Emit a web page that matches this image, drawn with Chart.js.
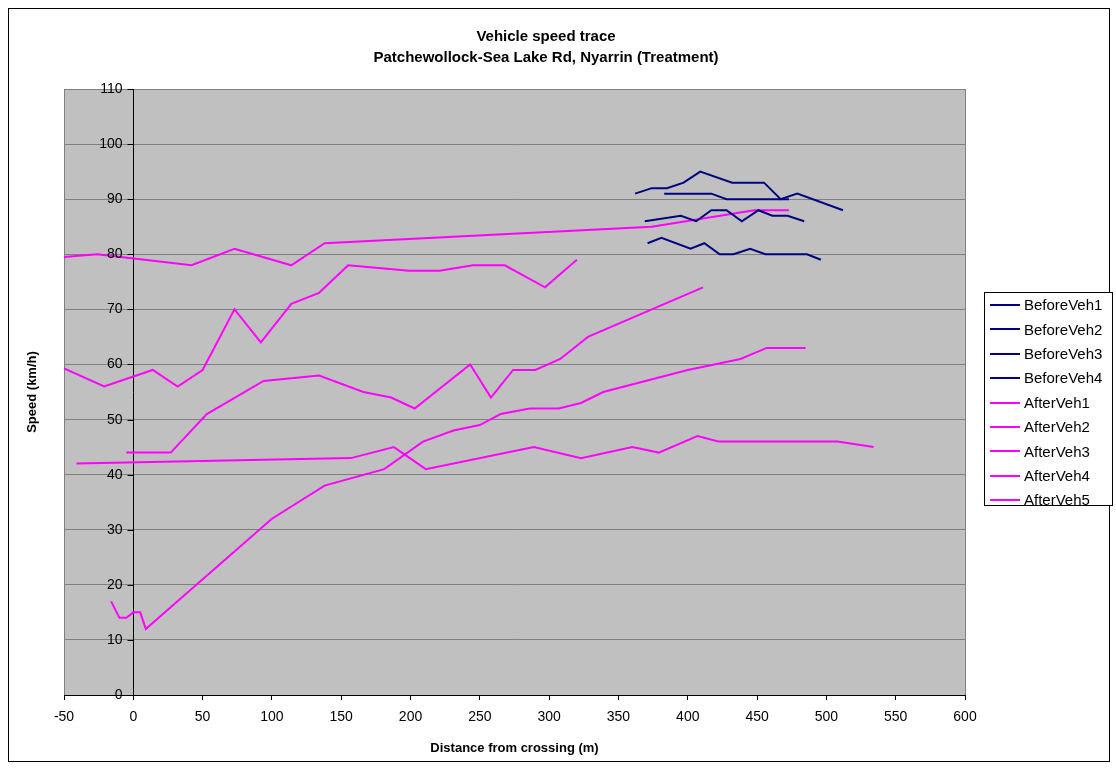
<!DOCTYPE html>
<html>
<head>
<meta charset="utf-8">
<title>Vehicle speed trace</title>
<script src="https://cdn.jsdelivr.net/npm/chart.js@4.4.1/dist/chart.umd.min.js"></script>
<style>
  html, body { margin: 0; padding: 0; background: #fff; }
  #wrap { width: 1116px; height: 771px; }
</style>
</head>
<body>
<div id="wrap"><canvas id="c" width="1116" height="771"></canvas></div>
<script>
// Distance from crossing (m) and speed (km/h) for each traced vehicle
const beforeVeh1Dist  = [362, 374, 385, 397, 409, 432, 455, 467, 479, 512];
const beforeVeh1Speed = [91, 92, 92, 93, 95, 93, 93, 90, 91, 88];
const beforeVeh2Dist  = [383, 417, 428, 473];
const beforeVeh2Speed = [91, 91, 90, 90];
const beforeVeh3Dist  = [369, 395, 406, 417, 428, 439, 451, 461, 472, 484];
const beforeVeh3Speed = [86, 87, 86, 88, 88, 86, 88, 87, 87, 86];
const beforeVeh4Dist  = [371, 381, 402, 412, 423, 433, 445, 456, 486, 496];
const beforeVeh4Speed = [82, 83, 81, 82, 80, 80, 81, 80, 80, 79];

const afterVeh1Dist  = [-50, -26, 42, 73, 114, 138, 374, 448, 473];
const afterVeh1Speed = [79.5, 80, 78, 81, 78, 82, 85, 88, 88];
const afterVeh2Dist  = [-50, -21, 14, 32, 50, 73, 92, 114, 134, 155, 199, 221, 245, 268, 297, 320];
const afterVeh2Speed = [59.3, 56, 59, 56, 59, 70, 64, 71, 73, 78, 77, 77, 78, 78, 74, 79];
const afterVeh3Dist  = [-5, 27, 53, 94, 134, 166, 186, 203, 243, 258, 274, 290, 308, 328, 411];
const afterVeh3Speed = [44, 44, 51, 57, 58, 55, 54, 52, 60, 54, 59, 59, 61, 65, 74];
const afterVeh4Dist  = [-41, 157, 188, 211, 289, 323, 360, 379, 407, 422, 508, 534];
const afterVeh4Speed = [42, 43, 45, 41, 45, 43, 45, 44, 47, 46, 46, 45];
const afterVeh5Dist  = [-16, -10, -5, 0, 5, 9, 100, 138, 181, 209, 231, 250, 265, 286, 307, 323, 339, 400, 438, 457, 485];
const afterVeh5Speed = [17, 14, 14, 15, 15, 12, 32, 38, 41, 46, 48, 49, 51, 52, 52, 53, 55, 59, 61, 63, 63];

const seriesNames = ['BeforeVeh1', 'BeforeVeh2', 'BeforeVeh3', 'BeforeVeh4',
                     'AfterVeh1', 'AfterVeh2', 'AfterVeh3', 'AfterVeh4', 'AfterVeh5'];

const titleLines = ['Vehicle speed trace', 'Patchewollock-Sea Lake Rd, Nyarrin (Treatment)'];
const xAxisTitle = 'Distance from crossing (m)';
const yAxisTitle = 'Speed (km/h)';

const BEFORE_COLOR = '#000080';
const AFTER_COLOR = '#FF00FF';
const FONT = '"Liberation Sans", Arial, sans-serif';

function pairs(xs, ys) {
  return xs.map((x, i) => ({ x: x, y: ys[i] }));
}

const seriesData = [
  [beforeVeh1Dist, beforeVeh1Speed],
  [beforeVeh2Dist, beforeVeh2Speed],
  [beforeVeh3Dist, beforeVeh3Speed],
  [beforeVeh4Dist, beforeVeh4Speed],
  [afterVeh1Dist, afterVeh1Speed],
  [afterVeh2Dist, afterVeh2Speed],
  [afterVeh3Dist, afterVeh3Speed],
  [afterVeh4Dist, afterVeh4Speed],
  [afterVeh5Dist, afterVeh5Speed]
];

const datasets = seriesData.map((s, i) => ({
  label: seriesNames[i],
  data: pairs(s[0], s[1]),
  borderColor: i < 4 ? BEFORE_COLOR : AFTER_COLOR,
  backgroundColor: i < 4 ? BEFORE_COLOR : AFTER_COLOR,
  borderWidth: 2,
  pointRadius: 0,
  pointHoverRadius: 0,
  tension: 0,
  fill: false,
  showLine: true
}));

// Grey plot area with a thin grey frame, plus the outer chart border
const frame = {
  id: 'frame',
  beforeDraw(chart) {
    const ctx = chart.ctx, a = chart.chartArea;
    ctx.save();
    ctx.fillStyle = '#fff';
    ctx.fillRect(0, 0, chart.width, chart.height);
    ctx.strokeStyle = '#000';
    ctx.lineWidth = 1;
    ctx.strokeRect(8.5, 8.5, 1101, 753);
    ctx.fillStyle = '#C0C0C0';
    ctx.fillRect(a.left, a.top, a.right - a.left, a.bottom - a.top);
    ctx.strokeStyle = '#808080';
    ctx.strokeRect(Math.round(a.left) + 0.5, Math.round(a.top) + 0.5,
                   Math.round(a.right - a.left), Math.round(a.bottom - a.top));
    ctx.restore();
  }
};

// Speed ticks sit beside the vertical axis where it crosses distance 0
const speedAxisLabels = {
  id: 'speedAxisLabels',
  afterDraw(chart) {
    const ctx = chart.ctx, ys = chart.scales.y, xs = chart.scales.x;
    const ax = Math.round(xs.getPixelForValue(0)) + 0.5;
    ctx.save();
    ctx.strokeStyle = '#000';
    ctx.lineWidth = 1;
    ctx.fillStyle = '#000';
    ctx.font = '14px ' + FONT;
    ctx.textAlign = 'right';
    ctx.textBaseline = 'middle';
    ys.ticks.forEach(t => {
      const py = Math.round(ys.getPixelForValue(t.value)) + 0.5;
      ctx.beginPath();
      ctx.moveTo(ax - 6, py);
      ctx.lineTo(ax, py);
      ctx.stroke();
      ctx.fillText(String(t.value), ax - 11, py);
    });
    ctx.restore();
  }
};

// Two-line title, rotated y-axis title and boxed legend on the right
const annotations = {
  id: 'annotations',
  afterDraw(chart) {
    const ctx = chart.ctx;
    ctx.save();
    ctx.fillStyle = '#000';
    ctx.textAlign = 'center';
    ctx.textBaseline = 'middle';
    ctx.font = 'bold 15px ' + FONT;
    ctx.fillText(titleLines[0], 546, 37);
    ctx.fillText(titleLines[1], 546, 58);

    ctx.save();
    ctx.translate(32, 392);
    ctx.rotate(-Math.PI / 2);
    ctx.font = 'bold 13px ' + FONT;
    ctx.fillText(yAxisTitle, 0, 0);
    ctx.restore();

    // legend
    const lx = 984, ly = 292, lw = 128, lh = 213;
    ctx.fillStyle = '#fff';
    ctx.fillRect(lx, ly, lw, lh);
    ctx.strokeStyle = '#000';
    ctx.lineWidth = 1;
    ctx.strokeRect(lx + 0.5, ly + 0.5, lw, lh);
    ctx.font = '15px ' + FONT;
    ctx.textAlign = 'left';
    chart.data.datasets.forEach((ds, i) => {
      const y = 305 + i * 24.4;
      ctx.strokeStyle = ds.borderColor;
      ctx.lineWidth = 2;
      ctx.beginPath();
      ctx.moveTo(990, Math.round(y));
      ctx.lineTo(1020, Math.round(y));
      ctx.stroke();
      ctx.fillStyle = '#000';
      ctx.fillText(ds.label, 1024, y + 1);
    });
    ctx.restore();
  }
};

new Chart(document.getElementById('c'), {
  type: 'line',
  data: { datasets: datasets },
  options: {
    responsive: false,
    animation: false,
    events: [],
    layout: { padding: { left: 64, top: 89, right: 151, bottom: 15 } },
    plugins: {
      legend: { display: false },
      title: { display: false },
      tooltip: { enabled: false }
    },
    scales: {
      x: {
        type: 'linear',
        min: -50,
        max: 600,
        afterFit(scale) { scale.height = 61; },
        ticks: {
          stepSize: 50,
          autoSkip: false,
          maxRotation: 0,
          color: '#000',
          padding: 9,
          font: { family: FONT, size: 14 }
        },
        grid: {
          drawOnChartArea: false,
          drawTicks: true,
          tickLength: 5,
          tickColor: '#000'
        },
        border: { display: true, color: '#000', width: 1 },
        title: {
          display: true,
          text: xAxisTitle,
          color: '#000',
          padding: { top: 0, bottom: 0 },
          font: { family: FONT, size: 13, weight: 'bold' }
        }
      },
      y: {
        type: 'linear',
        position: { x: 0 },
        min: 0,
        max: 110,
        ticks: {
          stepSize: 10,
          display: false
        },
        grid: {
          color: '#808080',
          lineWidth: 1,
          drawTicks: false
        },
        border: { display: true, color: '#000', width: 1 }
      }
    }
  },
  plugins: [frame, speedAxisLabels, annotations]
});
</script>
</body>
</html>
